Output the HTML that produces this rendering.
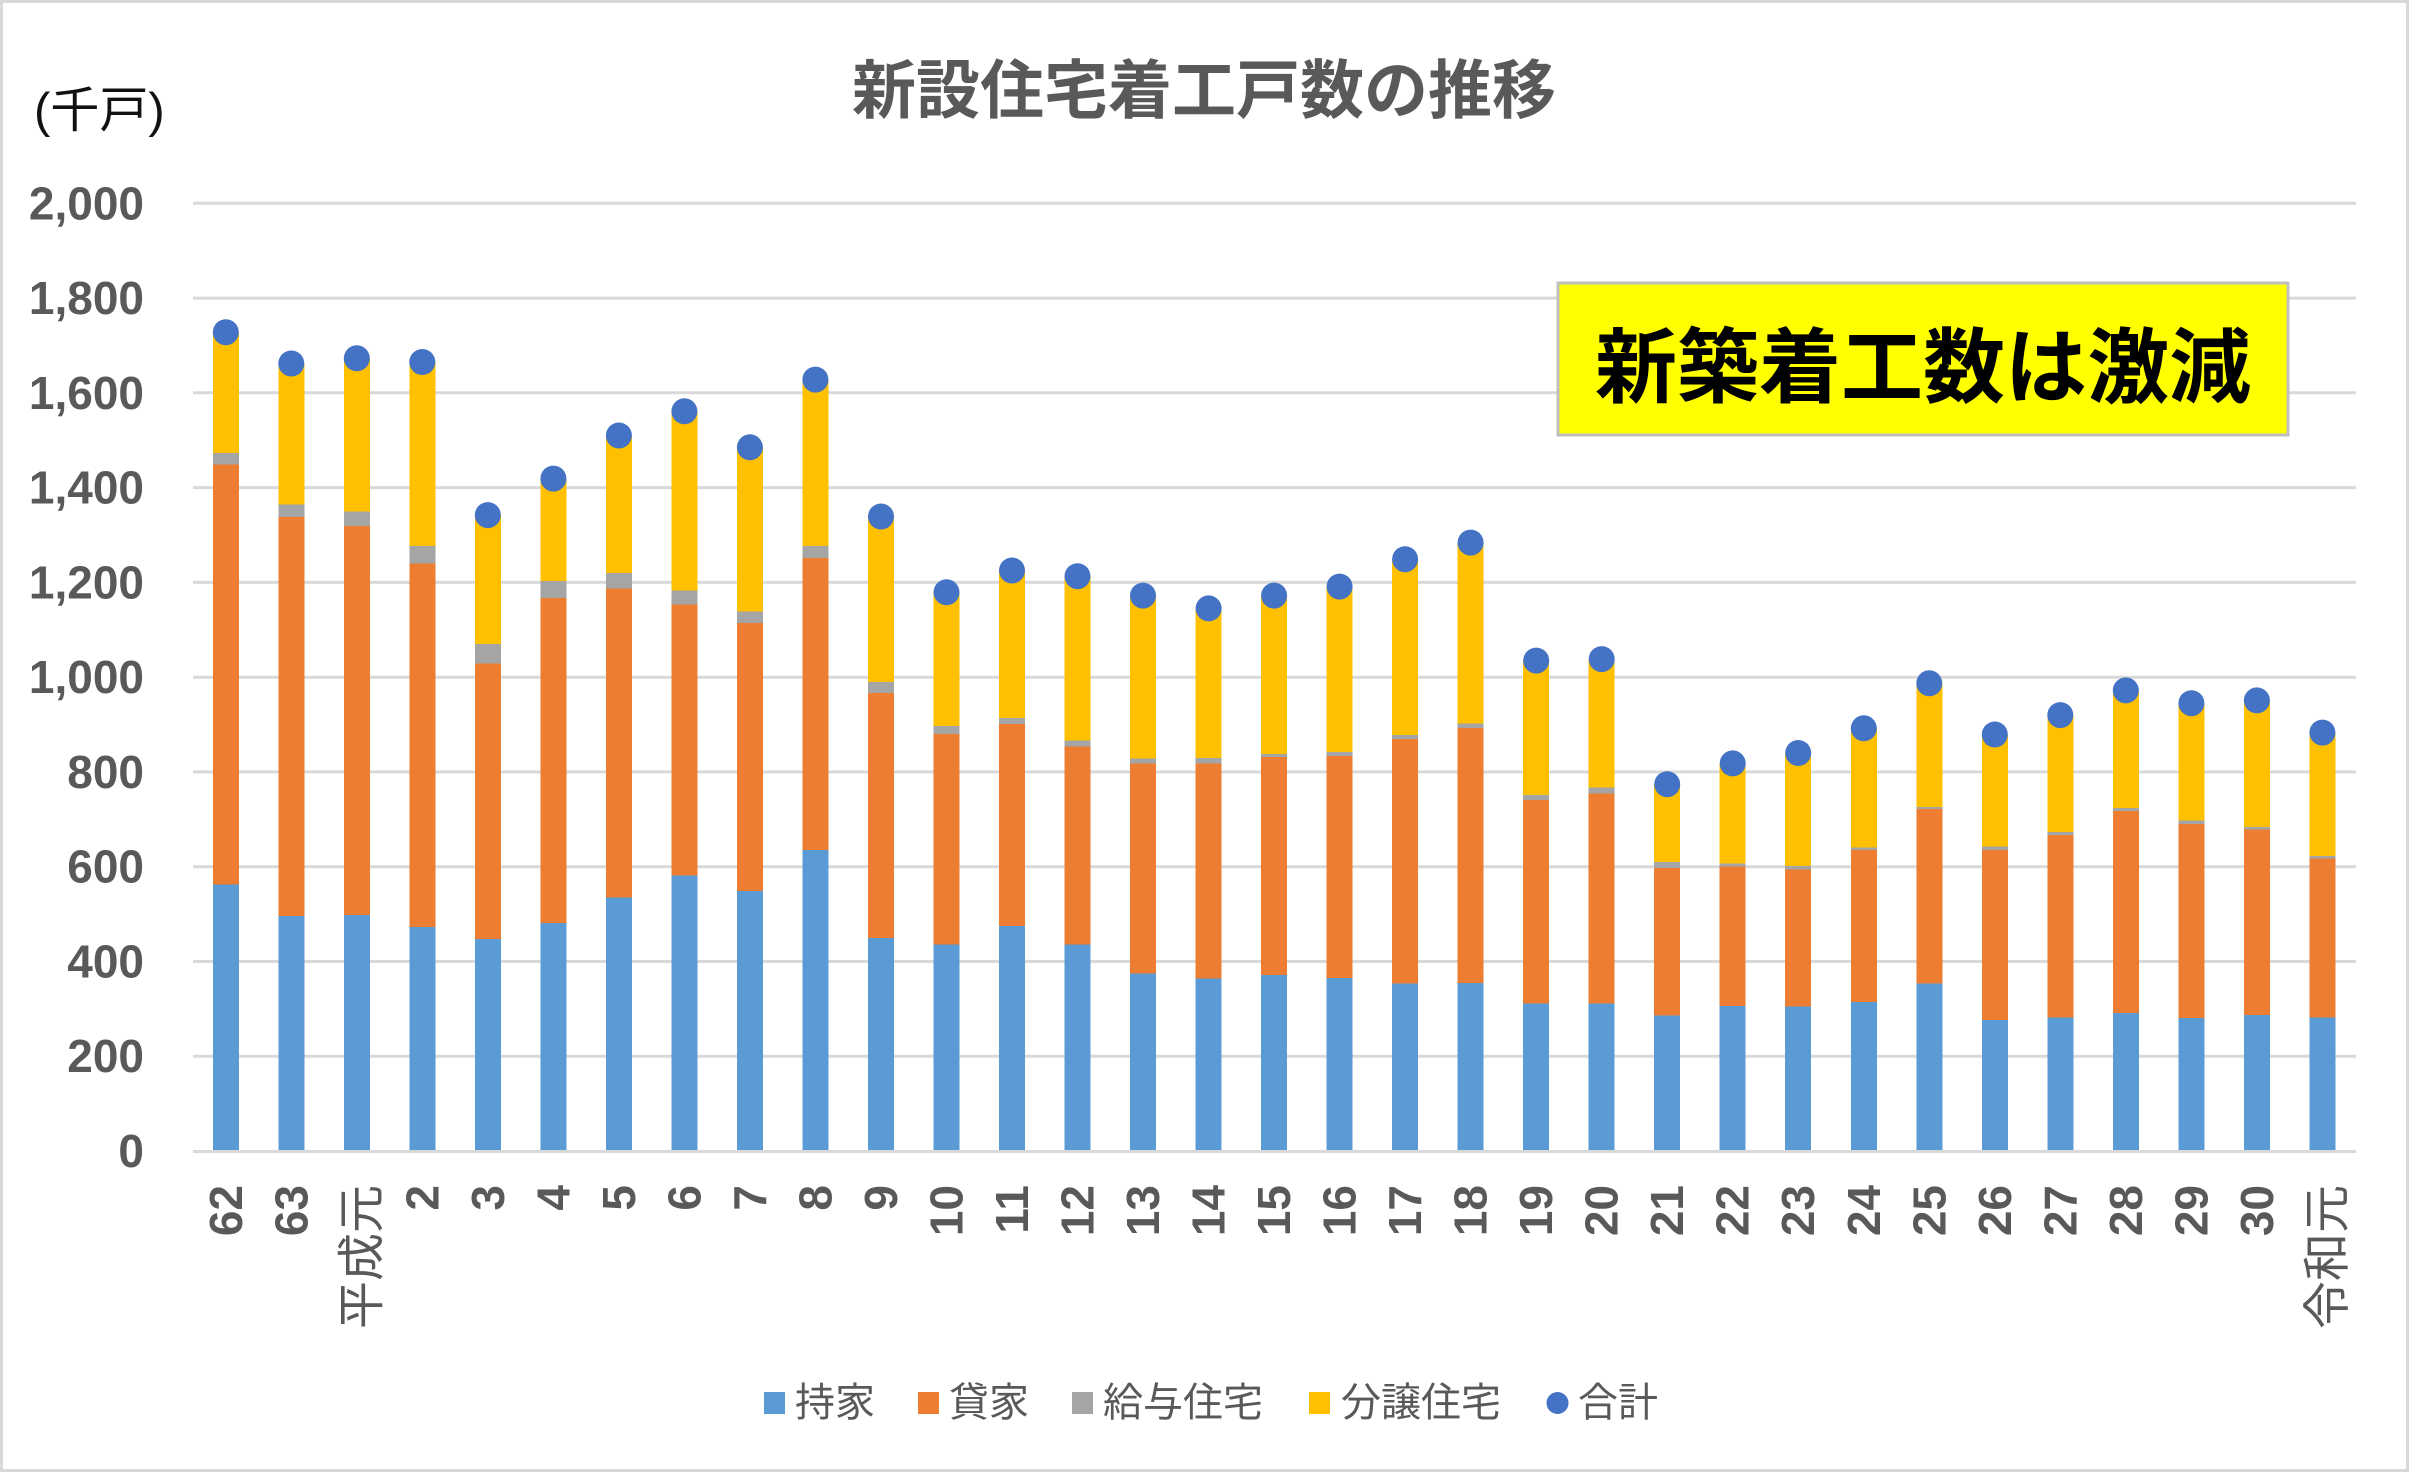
<!DOCTYPE html>
<html><head><meta charset="utf-8"><style>
html,body{margin:0;padding:0;background:#fff;}
svg{display:block;}
text{font-family:"Liberation Sans","Noto Sans CJK JP",sans-serif;}
.cj{font-family:"Noto Sans CJK JP","Liberation Sans",sans-serif;}
</style></head><body>
<svg width="2409" height="1472" viewBox="0 0 2409 1472" xmlns="http://www.w3.org/2000/svg">
<rect x="0" y="0" width="2409" height="1472" fill="#fff"/>
<rect x="1.5" y="1.5" width="2406" height="1469" fill="none" stroke="#d9d9d9" stroke-width="3"/>

<!-- gridlines -->
<g stroke="#d9d9d9" stroke-width="3">
<line x1="193" x2="2356" y1="203.3" y2="203.3"/>
<line x1="193" x2="2356" y1="298.1" y2="298.1"/>
<line x1="193" x2="2356" y1="392.8" y2="392.8"/>
<line x1="193" x2="2356" y1="487.6" y2="487.6"/>
<line x1="193" x2="2356" y1="582.4" y2="582.4"/>
<line x1="193" x2="2356" y1="677.2" y2="677.2"/>
<line x1="193" x2="2356" y1="771.9" y2="771.9"/>
<line x1="193" x2="2356" y1="866.7" y2="866.7"/>
<line x1="193" x2="2356" y1="961.5" y2="961.5"/>
<line x1="193" x2="2356" y1="1056.2" y2="1056.2"/>
</g>

<!-- bars -->
<g transform="translate(0,1151) scale(1,-0.47385)" shape-rendering="crispEdges">
<g fill="#5b9bd5">
<rect x="212.8" y="0" width="26" height="562"/>
<rect x="278.3" y="0" width="26" height="496"/>
<rect x="343.8" y="0" width="26" height="498"/>
<rect x="409.3" y="0" width="26" height="473"/>
<rect x="474.8" y="0" width="26" height="447"/>
<rect x="540.4" y="0" width="26" height="481"/>
<rect x="605.9" y="0" width="26" height="535"/>
<rect x="671.4" y="0" width="26" height="581"/>
<rect x="736.9" y="0" width="26" height="549"/>
<rect x="802.4" y="0" width="26" height="635"/>
<rect x="868.0" y="0" width="26" height="449"/>
<rect x="933.5" y="0" width="26" height="436"/>
<rect x="999.0" y="0" width="26" height="475"/>
<rect x="1064.5" y="0" width="26" height="436"/>
<rect x="1130.0" y="0" width="26" height="375"/>
<rect x="1195.6" y="0" width="26" height="364"/>
<rect x="1261.1" y="0" width="26" height="371"/>
<rect x="1326.6" y="0" width="26" height="365"/>
<rect x="1392.1" y="0" width="26" height="353"/>
<rect x="1457.6" y="0" width="26" height="355"/>
<rect x="1523.2" y="0" width="26" height="311"/>
<rect x="1588.7" y="0" width="26" height="311"/>
<rect x="1654.2" y="0" width="26" height="286"/>
<rect x="1719.7" y="0" width="26" height="306"/>
<rect x="1785.2" y="0" width="26" height="305"/>
<rect x="1850.8" y="0" width="26" height="314"/>
<rect x="1916.3" y="0" width="26" height="353"/>
<rect x="1981.8" y="0" width="26" height="276"/>
<rect x="2047.3" y="0" width="26" height="282"/>
<rect x="2112.8" y="0" width="26" height="291"/>
<rect x="2178.4" y="0" width="26" height="281"/>
<rect x="2243.9" y="0" width="26" height="287"/>
<rect x="2309.4" y="0" width="26" height="282"/>
</g>
<g fill="#ed7d31">
<rect x="212.8" y="562" width="26" height="887"/>
<rect x="278.3" y="496" width="26" height="842"/>
<rect x="343.8" y="498" width="26" height="821"/>
<rect x="409.3" y="473" width="26" height="767"/>
<rect x="474.8" y="447" width="26" height="582"/>
<rect x="540.4" y="481" width="26" height="686"/>
<rect x="605.9" y="535" width="26" height="652"/>
<rect x="671.4" y="581" width="26" height="572"/>
<rect x="736.9" y="549" width="26" height="565"/>
<rect x="802.4" y="635" width="26" height="616"/>
<rect x="868.0" y="449" width="26" height="518"/>
<rect x="933.5" y="436" width="26" height="444"/>
<rect x="999.0" y="475" width="26" height="426"/>
<rect x="1064.5" y="436" width="26" height="418"/>
<rect x="1130.0" y="375" width="26" height="443"/>
<rect x="1195.6" y="364" width="26" height="454"/>
<rect x="1261.1" y="371" width="26" height="460"/>
<rect x="1326.6" y="365" width="26" height="469"/>
<rect x="1392.1" y="353" width="26" height="517"/>
<rect x="1457.6" y="355" width="26" height="538"/>
<rect x="1523.2" y="311" width="26" height="430"/>
<rect x="1588.7" y="311" width="26" height="443"/>
<rect x="1654.2" y="286" width="26" height="311"/>
<rect x="1719.7" y="306" width="26" height="294"/>
<rect x="1785.2" y="305" width="26" height="289"/>
<rect x="1850.8" y="314" width="26" height="321"/>
<rect x="1916.3" y="353" width="26" height="369"/>
<rect x="1981.8" y="276" width="26" height="359"/>
<rect x="2047.3" y="282" width="26" height="385"/>
<rect x="2112.8" y="291" width="26" height="427"/>
<rect x="2178.4" y="281" width="26" height="409"/>
<rect x="2243.9" y="287" width="26" height="391"/>
<rect x="2309.4" y="282" width="26" height="335"/>
</g>
<g fill="#a5a5a5">
<rect x="212.8" y="1449" width="26" height="24"/>
<rect x="278.3" y="1338" width="26" height="26"/>
<rect x="343.8" y="1319" width="26" height="31"/>
<rect x="409.3" y="1240" width="26" height="37"/>
<rect x="474.8" y="1029" width="26" height="41"/>
<rect x="540.4" y="1167" width="26" height="36"/>
<rect x="605.9" y="1187" width="26" height="33"/>
<rect x="671.4" y="1153" width="26" height="30"/>
<rect x="736.9" y="1114" width="26" height="25"/>
<rect x="802.4" y="1251" width="26" height="26"/>
<rect x="868.0" y="967" width="26" height="23"/>
<rect x="933.5" y="880" width="26" height="17"/>
<rect x="999.0" y="901" width="26" height="13"/>
<rect x="1064.5" y="854" width="26" height="12"/>
<rect x="1130.0" y="818" width="26" height="10"/>
<rect x="1195.6" y="818" width="26" height="11"/>
<rect x="1261.1" y="831" width="26" height="7"/>
<rect x="1326.6" y="834" width="26" height="8"/>
<rect x="1392.1" y="870" width="26" height="8"/>
<rect x="1457.6" y="893" width="26" height="9"/>
<rect x="1523.2" y="741" width="26" height="10"/>
<rect x="1588.7" y="754" width="26" height="13"/>
<rect x="1654.2" y="597" width="26" height="13"/>
<rect x="1719.7" y="600" width="26" height="7"/>
<rect x="1785.2" y="594" width="26" height="7"/>
<rect x="1850.8" y="635" width="26" height="6"/>
<rect x="1916.3" y="722" width="26" height="4"/>
<rect x="1981.8" y="635" width="26" height="8"/>
<rect x="2047.3" y="667" width="26" height="6"/>
<rect x="2112.8" y="718" width="26" height="6"/>
<rect x="2178.4" y="690" width="26" height="7"/>
<rect x="2243.9" y="678" width="26" height="6"/>
<rect x="2309.4" y="617" width="26" height="6"/>
</g>
<g fill="#ffc000">
<rect x="212.8" y="1473" width="26" height="255"/>
<rect x="278.3" y="1364" width="26" height="298"/>
<rect x="343.8" y="1350" width="26" height="323"/>
<rect x="409.3" y="1277" width="26" height="388"/>
<rect x="474.8" y="1070" width="26" height="272"/>
<rect x="540.4" y="1203" width="26" height="216"/>
<rect x="605.9" y="1220" width="26" height="290"/>
<rect x="671.4" y="1183" width="26" height="378"/>
<rect x="736.9" y="1139" width="26" height="346"/>
<rect x="802.4" y="1277" width="26" height="351"/>
<rect x="868.0" y="990" width="26" height="349"/>
<rect x="933.5" y="897" width="26" height="282"/>
<rect x="999.0" y="914" width="26" height="311"/>
<rect x="1064.5" y="866" width="26" height="347"/>
<rect x="1130.0" y="828" width="26" height="344"/>
<rect x="1195.6" y="829" width="26" height="316"/>
<rect x="1261.1" y="838" width="26" height="334"/>
<rect x="1326.6" y="842" width="26" height="349"/>
<rect x="1392.1" y="878" width="26" height="371"/>
<rect x="1457.6" y="902" width="26" height="382"/>
<rect x="1523.2" y="751" width="26" height="284"/>
<rect x="1588.7" y="767" width="26" height="271"/>
<rect x="1654.2" y="610" width="26" height="164"/>
<rect x="1719.7" y="607" width="26" height="211"/>
<rect x="1785.2" y="601" width="26" height="239"/>
<rect x="1850.8" y="641" width="26" height="251"/>
<rect x="1916.3" y="726" width="26" height="261"/>
<rect x="1981.8" y="643" width="26" height="236"/>
<rect x="2047.3" y="673" width="26" height="247"/>
<rect x="2112.8" y="724" width="26" height="248"/>
<rect x="2178.4" y="697" width="26" height="248"/>
<rect x="2243.9" y="684" width="26" height="267"/>
<rect x="2309.4" y="623" width="26" height="260"/>
</g>
</g>

<!-- baseline axis -->
<line x1="193" x2="2356" y1="1151.5" y2="1151.5" stroke="#d9d9d9" stroke-width="3"/>

<!-- total dots -->
<g fill="#4472c4">
<circle cx="225.8" cy="332.2" r="13"/>
<circle cx="291.3" cy="363.5" r="13"/>
<circle cx="356.8" cy="358.3" r="13"/>
<circle cx="422.3" cy="362.0" r="13"/>
<circle cx="487.8" cy="515.1" r="13"/>
<circle cx="553.4" cy="478.6" r="13"/>
<circle cx="618.9" cy="435.5" r="13"/>
<circle cx="684.4" cy="411.3" r="13"/>
<circle cx="749.9" cy="447.3" r="13"/>
<circle cx="815.4" cy="379.6" r="13"/>
<circle cx="881.0" cy="516.5" r="13"/>
<circle cx="946.5" cy="592.3" r="13"/>
<circle cx="1012.0" cy="570.5" r="13"/>
<circle cx="1077.5" cy="576.2" r="13"/>
<circle cx="1143.0" cy="595.6" r="13"/>
<circle cx="1208.6" cy="608.4" r="13"/>
<circle cx="1274.1" cy="595.6" r="13"/>
<circle cx="1339.6" cy="586.6" r="13"/>
<circle cx="1405.1" cy="559.2" r="13"/>
<circle cx="1470.6" cy="542.6" r="13"/>
<circle cx="1536.2" cy="660.6" r="13"/>
<circle cx="1601.7" cy="659.1" r="13"/>
<circle cx="1667.2" cy="784.2" r="13"/>
<circle cx="1732.7" cy="763.4" r="13"/>
<circle cx="1798.2" cy="753.0" r="13"/>
<circle cx="1863.8" cy="728.3" r="13"/>
<circle cx="1929.3" cy="683.3" r="13"/>
<circle cx="1994.8" cy="734.5" r="13"/>
<circle cx="2060.3" cy="715.1" r="13"/>
<circle cx="2125.8" cy="690.4" r="13"/>
<circle cx="2191.4" cy="703.2" r="13"/>
<circle cx="2256.9" cy="700.4" r="13"/>
<circle cx="2322.4" cy="732.6" r="13"/>
</g>

<!-- title -->
<text x="1204" y="113" text-anchor="middle" font-size="64" font-weight="bold" fill="#595959" class="cj">新設住宅着工戸数の推移</text>
<text x="34" y="127" font-size="49" fill="#111">(<tspan class="cj">千戸</tspan>)</text>

<!-- y axis labels -->
<g font-size="46" font-weight="bold" fill="#595959" text-anchor="end">
<text x="144" y="219.3">2,000</text>
<text x="144" y="314.1">1,800</text>
<text x="144" y="408.8">1,600</text>
<text x="144" y="503.6">1,400</text>
<text x="144" y="598.4">1,200</text>
<text x="144" y="693.2">1,000</text>
<text x="144" y="787.9">800</text>
<text x="144" y="882.7">600</text>
<text x="144" y="977.5">400</text>
<text x="144" y="1072.2">200</text>
<text x="144" y="1167">0</text>
</g>

<!-- x axis labels -->
<g font-size="46" font-weight="bold" fill="#595959" text-anchor="end" dominant-baseline="central">
<text transform="translate(225.8,1185) rotate(-90)">62</text>
<text transform="translate(291.3,1185) rotate(-90)">63</text>
<text transform="translate(356.8,1185) rotate(-90)" class="cj" font-weight="normal" font-size="48">平成元</text>
<text transform="translate(422.3,1185) rotate(-90)">2</text>
<text transform="translate(487.8,1185) rotate(-90)">3</text>
<text transform="translate(553.4,1185) rotate(-90)">4</text>
<text transform="translate(618.9,1185) rotate(-90)">5</text>
<text transform="translate(684.4,1185) rotate(-90)">6</text>
<text transform="translate(749.9,1185) rotate(-90)">7</text>
<text transform="translate(815.4,1185) rotate(-90)">8</text>
<text transform="translate(881.0,1185) rotate(-90)">9</text>
<text transform="translate(946.5,1185) rotate(-90)">10</text>
<text transform="translate(1012.0,1185) rotate(-90)">11</text>
<text transform="translate(1077.5,1185) rotate(-90)">12</text>
<text transform="translate(1143.0,1185) rotate(-90)">13</text>
<text transform="translate(1208.6,1185) rotate(-90)">14</text>
<text transform="translate(1274.1,1185) rotate(-90)">15</text>
<text transform="translate(1339.6,1185) rotate(-90)">16</text>
<text transform="translate(1405.1,1185) rotate(-90)">17</text>
<text transform="translate(1470.6,1185) rotate(-90)">18</text>
<text transform="translate(1536.2,1185) rotate(-90)">19</text>
<text transform="translate(1601.7,1185) rotate(-90)">20</text>
<text transform="translate(1667.2,1185) rotate(-90)">21</text>
<text transform="translate(1732.7,1185) rotate(-90)">22</text>
<text transform="translate(1798.2,1185) rotate(-90)">23</text>
<text transform="translate(1863.8,1185) rotate(-90)">24</text>
<text transform="translate(1929.3,1185) rotate(-90)">25</text>
<text transform="translate(1994.8,1185) rotate(-90)">26</text>
<text transform="translate(2060.3,1185) rotate(-90)">27</text>
<text transform="translate(2125.8,1185) rotate(-90)">28</text>
<text transform="translate(2191.4,1185) rotate(-90)">29</text>
<text transform="translate(2256.9,1185) rotate(-90)">30</text>
<text transform="translate(2322.4,1185) rotate(-90)" class="cj" font-weight="normal" font-size="48">令和元</text>
</g>

<!-- annotation box -->
<rect x="1558" y="283" width="730" height="152" fill="#ffff00" stroke="#bfbfbf" stroke-width="3"/>
<text x="1923" y="396" text-anchor="middle" font-size="82" font-weight="bold" fill="#000" class="cj">新築着工数は激減</text>

<!-- legend -->
<g font-size="40" fill="#595959" class="cj">
<rect x="764" y="1392" width="21" height="22" fill="#5b9bd5"/>
<text x="795" y="1416">持家</text>
<rect x="918" y="1392" width="21" height="22" fill="#ed7d31"/>
<text x="949" y="1416">貸家</text>
<rect x="1072" y="1392" width="21" height="22" fill="#a5a5a5"/>
<text x="1103" y="1416">給与住宅</text>
<rect x="1309" y="1392" width="21" height="22" fill="#ffc000"/>
<text x="1341" y="1416">分譲住宅</text>
<circle cx="1557.5" cy="1403" r="11" fill="#4472c4"/>
<text x="1578" y="1416">合計</text>
</g>
</svg>
</body></html>
